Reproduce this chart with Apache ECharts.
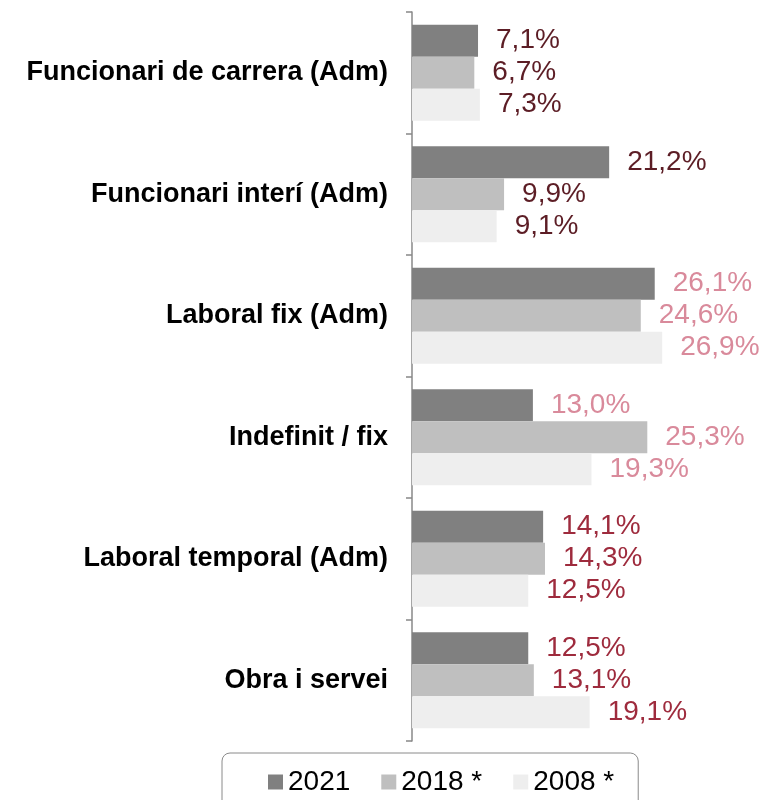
<!DOCTYPE html>
<html>
<head>
<meta charset="utf-8">
<script src="https://cdn.jsdelivr.net/npm/echarts@6/dist/echarts.min.js"></script>
<style>
  html, body { margin: 0; padding: 0; background: #fff; }
  #main { width: 766px; height: 800px; }
</style>
</head>
<body>
<div id="main"></div>
<script>
// categories, top to bottom
const categories = [
  "Funcionari de carrera (Adm)",
  "Funcionari interí (Adm)",
  "Laboral fix (Adm)",
  "Indefinit / fix",
  "Laboral temporal (Adm)",
  "Obra i servei"
];
const seriesNames = ["2021", "2018 *", "2008 *"];
const values2021 = [7.1, 21.2, 26.1, 13.0, 14.1, 12.5];
const values2018 = [6.7, 9.9, 24.6, 25.3, 14.3, 13.1];
const values2008 = [7.3, 9.1, 26.9, 19.3, 12.5, 19.1];

// colour of the value labels for each category
const labelColors = ["#5c1d25", "#5c1d25", "#d98a9b", "#d98a9b", "#9e2b3d", "#9e2b3d"];
const barColors = ["#808080", "#bfbfbf", "#eeeeee"];

const chart = echarts.init(document.getElementById("main"));

function makeSeries(name, values, color) {
  return {
    name: name,
    type: "bar",
    barGap: "0%",
    barCategoryGap: "21%",
    itemStyle: { color: color },
    label: {
      show: true,
      position: "right",
      distance: 18,
      fontSize: 28,
      fontFamily: "Liberation Sans, Arial, sans-serif",
      formatter: p => p.value.toFixed(1).replace(".", ",") + "%"
    },
    data: values.map((v, i) => ({
      value: v,
      label: { color: labelColors[i] }
    }))
  };
}

const option = {
  animation: false,
  textStyle: { fontFamily: "Liberation Sans, Arial, sans-serif" },
  grid: {
    left: 412,
    top: 12,
    width: 279,
    bottom: 59,
    containLabel: false
  },
  legend: {
    data: seriesNames,
    left: 222,
    top: 753,
    itemWidth: 15,
    itemHeight: 15,
    itemGap: 31,
    icon: "rect",
    padding: [15, 24, 30, 46],
    borderColor: "#8a8a8a",
    borderWidth: 1,
    borderRadius: 8,
    textStyle: {
      fontSize: 28,
      color: "#000",
      fontFamily: "Liberation Sans, Arial, sans-serif"
    }
  },
  xAxis: {
    type: "value",
    min: 0,
    max: 30,
    show: false
  },
  yAxis: {
    type: "category",
    inverse: true,
    data: categories,
    axisLine: { lineStyle: { color: "#888", width: 1.5 } },
    axisTick: { show: true, length: 6, lineStyle: { color: "#888", width: 1.5 } },
    axisLabel: {
      fontSize: 27,
      fontWeight: "bold",
      color: "#000",
      margin: 24,
      fontFamily: "Liberation Sans, Arial, sans-serif"
    }
  },
  series: [
    makeSeries(seriesNames[0], values2021, barColors[0]),
    makeSeries(seriesNames[1], values2018, barColors[1]),
    makeSeries(seriesNames[2], values2008, barColors[2])
  ]
};

chart.setOption(option);
</script>
</body>
</html>
